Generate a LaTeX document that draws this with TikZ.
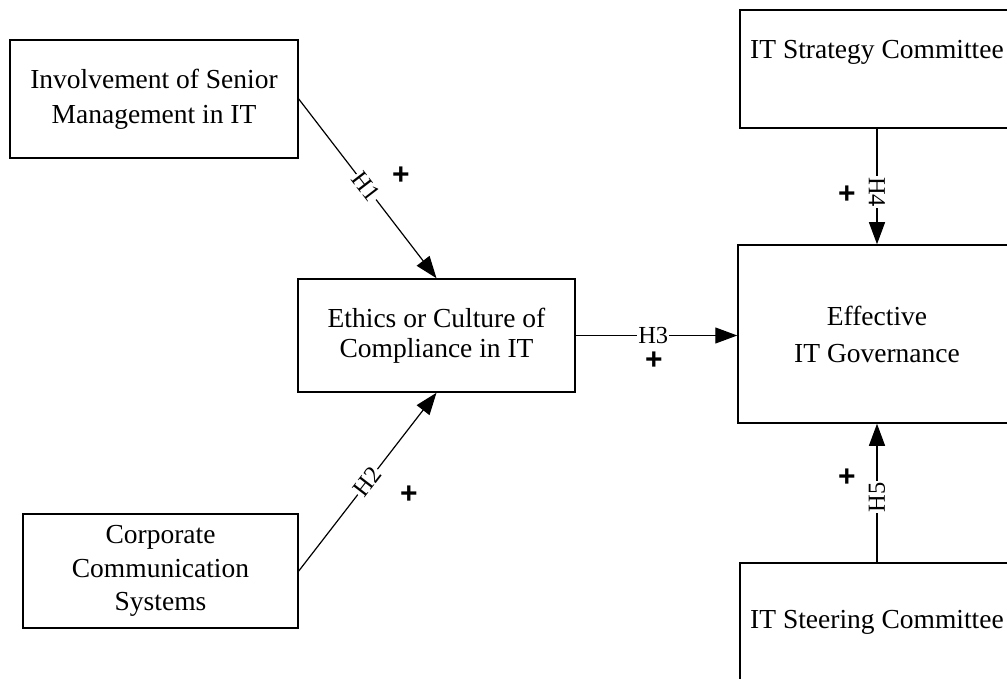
\documentclass[tikz,border=0pt]{standalone}
\usepackage{fontspec}
\setmainfont{Liberation Serif}
\newfontfamily\plusfont{Liberation Sans}
\usetikzlibrary{arrows.meta}

\begin{document}
\begin{tikzpicture}[x=1pt,y=-1pt,
  box/.style={draw, line width=1.5pt, rectangle, inner sep=0pt, align=center,
              font=\fontsize{27.5}{35}\selectfont},
  boxtext/.style={inner sep=0pt, anchor=west, font=\fontsize{27.5}{35}\selectfont},
  link/.style={line width=1.2pt, -{Triangle[length=22pt,width=16pt]}},
  hyp/.style={fill=white, inner sep=1pt, font=\fontsize{24.5}{24.5}\selectfont},
  sign/.style={inner sep=0pt, font=\plusfont\bfseries\fontsize{30}{30}\selectfont}]

  \useasboundingbox (0,0) rectangle (1007,679);
  \clip (0,0) rectangle (1007,679);

  % constructs
  \node[box, minimum width=288pt, minimum height=118pt] (inv) at (154,99)
    {Involvement of Senior\\Management in IT};
  \node[box, minimum width=277pt, minimum height=113pt,
        font=\fontsize{27.5}{30}\selectfont] (eth) at (436.5,335.5)
    {Ethics or Culture of\\Compliance in IT};
  \node[box, minimum width=275pt, minimum height=114pt,
        font=\fontsize{27.5}{33.5}\selectfont] (corp) at (160.5,571)
    {Corporate\\Communication\\Systems};
  \node[box, minimum width=278pt, minimum height=178pt,
        font=\fontsize{27.5}{37}\selectfont] (eff) at (877,334)
    {Effective\\IT Governance};

  % committees (boxes run past the right edge)
  \node[box, minimum width=274pt, minimum height=118pt] (strat) at (877,69) {};
  \node[boxtext] (stratlabel) at (750,52) {IT Strategy Committee};
  \node[box, minimum width=274pt, minimum height=127pt] (steer) at (877,626.5) {};
  \node[boxtext] (steerlabel) at (750,622) {IT Steering Committee};

  % hypotheses
  \draw[link] (inv.east) -- node[hyp, sloped, pos=0.49] {H1} (eth.north);
  \draw[link] (corp.east) -- node[hyp, sloped, pos=0.5] {H2} (eth.south);
  \draw[link] (eth.east) -- node[hyp, pos=0.48] {H3} (eth.east -| eff.west);
  \draw[link] (strat.south) -- node[hyp, rotate=-90, pos=0.55] {H4} (eff.north);
  \draw[link] (steer.north) -- node[hyp, rotate=90, pos=0.47] {H5} (eff.south);

  % signs
  \node[sign] (s1) at (401,176) {+};
  \node[sign] (s2) at (409,495) {+};
  \node[sign] (s3) at (654,361) {+};
  \node[sign] (s4) at (847,195) {+};
  \node[sign] (s5) at (847,478) {+};
\end{tikzpicture}
\end{document}
